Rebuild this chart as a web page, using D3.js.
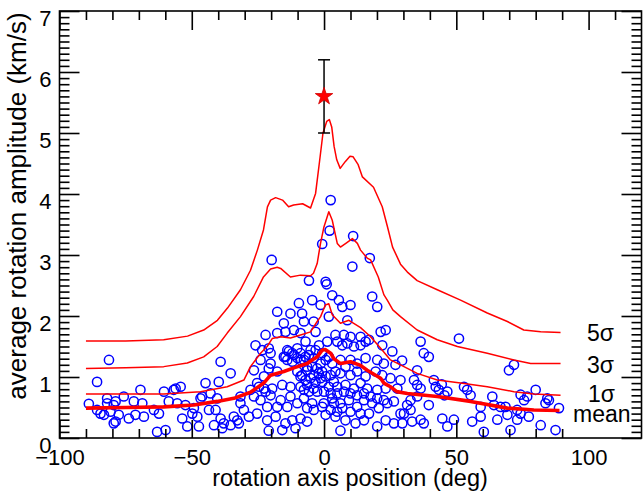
<!DOCTYPE html>
<html><head><meta charset="utf-8">
<script src="https://cdn.jsdelivr.net/npm/d3@7"></script>
<style>
body{margin:0;background:#fff;}
svg{display:block;}
text{font-family:"Liberation Sans",Arial,Helvetica,sans-serif;fill:#000;}
</style>
</head><body>
<svg id="c" width="644" height="499"></svg>
<script>
// ---------------- data ----------------
const xLabels = [-100, -50, 0, 50, 100];
const yLabels = [0, 1, 2, 3, 4, 5, 6, 7];
const sigmaLabels = ["5σ", "3σ", "1σ", "mean"];

const points = [
[-88.9,0.56],[-85.8,0.92],[-81.3,1.28],[-84.5,0.40],[-83.2,0.38],[-85.8,0.46],[-82.0,0.57],[-82.0,0.65],
[-79.5,0.54],[-78.8,0.60],[-80.7,0.43],[-79.5,0.24],[-78.8,0.27],[-77.6,0.38],[-75.7,0.68],[-73.8,0.32],
[-71.9,0.60],[-71.3,0.38],[-69.4,0.79],[-68.7,0.57],[-68.1,0.35],[-64.3,0.46],[-63.1,0.10],[-62.4,0.40],
[-60.5,0.76],[-59.9,0.13],[-58.7,0.60],[-56.8,0.79],[-56.1,0.81],[-55.5,0.57],[-54.2,0.84],[-53.6,0.32],
[-52.4,0.54],[-51.7,0.19],[-49.8,0.40],[-49.2,0.49],[-47.9,0.35],[-47.3,0.19],[-46.7,0.65],[-46.1,0.68],
[-44.8,0.90],[-43.5,0.46],[-42.9,0.73],[-41.6,0.21],[-41.0,0.46],[-40.4,0.65],[-39.8,0.92],[-39.1,1.25],
[-38.5,0.16],[-39.1,0.32],[-37.9,0.24],[-35.3,1.06],[-35.3,0.21],[-34.1,0.35],[-32.8,0.29],[-32.2,0.24],
[-31.6,0.57],[-31.6,0.68],[-30.3,0.46],[-28.4,0.35],[-27.8,0.79],
[-5.7,2.58],[0.6,2.56],[1.0,2.52],[3.1,2.34],[18.2,2.32],[-4.5,2.26],[-9.5,2.21],[5.6,2.26],[6.9,2.15],
[10.0,2.18],[20.1,2.15],[-17.7,2.07],[-12.7,2.04],[-8.3,2.04],[-7.6,1.91],[-3.9,1.91],[1.8,1.99],[-1.3,2.18],
[8.8,1.93],[-15.2,1.88],[-11.4,1.77],[21.4,1.74],[23.3,1.77],[-22.1,1.69],[-17.7,1.72],[-14.6,1.74],
[-8.9,1.72],[-3.2,1.74],[4.3,1.69],[7.5,1.69],[10.0,1.66],[13.8,1.66],[17.0,1.61],[-25.9,1.52],[-23.4,1.44],
[-20.9,1.47],[-20.2,1.39],[-13.9,1.44],[-12.0,1.39],[-10.1,1.47],[-7.0,1.58],[-5.1,1.44],[-1.9,1.52],
[1.2,1.58],[5.0,1.58],[6.9,1.52],[8.8,1.55],[11.3,1.50],[13.8,1.52],[15.7,1.58],[22.0,1.52],[25.8,1.42],
[27.0,1.20],[-24.0,1.28],[-20.2,1.22],[-15.2,1.33],[-13.9,1.28],[-12.0,1.25],[-8.9,1.28],[-7.0,1.33],
[-3.9,1.31],[-1.3,1.22],[1.8,1.33],[3.1,1.22],[6.2,1.28],[8.1,1.17],[10.0,1.28],[12.5,1.22],[15.7,1.31],
[20.1,1.28],[22.6,1.22],[-26.5,1.11],[-20.9,1.14],[-17.7,1.09],[-10.1,1.09],[-8.3,1.03],[-6.4,1.11],
[-3.9,1.03],[-2.0,1.06],[4.3,1.09],[6.2,1.06],[10.0,1.03],[12.5,1.09],[15.7,1.01],[19.5,1.09],[22.0,1.03],
[25.1,0.98],[-25.3,0.90],[-22.7,0.81],[-19.6,0.81],[-15.8,0.87],[-12.7,0.84],[-8.9,0.84],[-6.4,0.87],
[-3.9,0.81],[-0.7,0.92],[1.8,0.84],[5.0,0.84],[8.1,0.87],[11.3,0.81],[13.8,0.90],[16.3,0.81],[20.1,0.79],
[23.3,0.81],[27.7,0.81],[-26.5,0.68],[-24.0,0.62],[-20.2,0.70],[-16.4,0.62],[-12.7,0.68],[-10.1,0.57],
[-7.6,0.65],[-4.5,0.57],[-0.1,0.57],[3.1,0.65],[6.2,0.57],[9.4,0.62],[12.5,0.51],[15.1,0.62],[18.2,0.57],
[20.7,0.49],[23.9,0.57],[26.4,0.60],[-25.3,0.40],[-21.5,0.29],[-18.3,0.35],[-14.6,0.24],[-12.0,0.29],
[-8.9,0.32],[-6.4,0.27],[0.6,0.38],[4.3,0.35],[8.1,0.29],[11.9,0.24],[15.1,0.29],[20.1,0.19],[23.3,0.29],
[26.4,0.24],[-20.9,0.12],[-15.8,0.13],[-10.8,0.16],[6.2,0.12],
[-14.6,1.33],[-13.3,1.42],[-11.4,1.36],[-10.1,1.31],[-8.9,1.39],[-7.6,1.28],[-5.7,1.36],[-3.2,1.44],
[-0.7,1.39],[0.6,1.28],[-6.4,1.17],[-4.5,1.17],[-2.6,1.14],[-0.7,1.09],[-8.9,1.01],[-7.0,0.95],[-5.1,0.98],
[-3.2,0.92],[-1.3,0.98],[0.6,1.01],[2.5,1.03],[3.7,0.92],[-7.6,0.79],[-5.7,0.76],[-2.6,0.76],[0.0,0.76],
[2.5,0.73],[5.0,0.73],[7.5,0.76],[10.0,0.73],[12.5,0.70],[15.1,0.73],[17.6,0.68],[20.1,0.65],[22.6,0.62],
[3.7,0.57],[6.9,0.49],[10.0,0.43],[13.8,0.40],[17.0,0.40],[-0.7,0.51],[2.5,0.46],[5.0,0.43],[-3.9,0.46],
[-6.4,0.49],[-13.9,0.51],[-17.7,0.51],[-21.5,0.51],[-22.7,1.01],[-24.6,0.84],[-22.1,0.76],
[2.5,3.90],[2.1,3.40],[-0.7,3.18],[11.0,3.31],[17.3,2.95],[10.7,2.81],[-19.8,2.92],
[28.9,0.95],[29.5,1.27],[28.9,0.40],[29.6,0.24],[30.2,0.40],[31.4,0.54],[32.7,0.46],[32.7,0.62],[33.3,0.27],
[35.2,0.68],[34.0,0.95],[35.2,0.87],[36.5,0.81],[35.2,1.11],[36.5,1.58],[37.7,1.39],[39.6,1.33],[36.5,0.30],
[37.7,0.24],[39.6,0.54],[41.5,0.95],[42.2,0.84],[43.4,0.79],[44.5,0.88],[45.5,0.70],[46.6,0.76],[44.7,0.32],
[46.6,0.19],[49.1,0.30],[51.0,1.63],[52.9,0.84],[54.1,0.79],[55.4,0.70],[56.0,0.27],[59.2,0.51],[60.4,0.10],
[59.2,0.35],[63.6,0.68],[64.2,0.54],[65.5,0.30],[66.7,0.51],[68.6,0.51],[69.9,1.11],[71.8,1.20],[70.5,0.13],
[73.0,0.30],[74.3,0.71],[75.6,0.62],[76.8,0.68],[77.4,0.35],[80.0,0.79],[81.9,0.21],[83.7,0.57],[84.4,0.65],
[85.0,0.62],[88.8,0.49],[87.5,0.13],[69.3,0.38],[73.0,0.46],[74.3,0.40]
];

const curve5 = [
[-90,1.59],[-75,1.59],[-60.6,1.61],[-51.6,1.67],[-45.5,1.77],[-40.3,1.93],[-36.5,2.13],[-31.6,2.43],
[-27.8,2.75],[-25.2,3.08],[-22.9,3.41],[-21.4,3.79],[-20.2,3.90],[-18.3,3.94],[-15.7,3.90],[-13.4,3.79],
[-11.5,3.82],[-8.1,3.84],[-5.1,3.77],[-3.2,4.01],[-1.8,4.50],[-0.4,5.00],[1.0,5.19],[2.0,5.22],[2.9,5.10],
[3.8,4.78],[4.8,4.56],[6.1,4.42],[8.0,4.53],[9.8,4.62],[11.0,4.61],[12.9,4.48],[14.5,4.28],[18.7,4.11],
[22.0,3.79],[24.0,3.46],[25.9,3.13],[28.9,2.85],[31.5,2.72],[35.2,2.58],[42.8,2.43],[51.6,2.26],
[61.7,2.05],[69.3,1.91],[75.5,1.77],[81.9,1.74],[89.4,1.73]
];
const curve3 = [
[-90,1.14],[-75,1.15],[-60.6,1.17],[-51.7,1.23],[-45.5,1.33],[-40.4,1.50],[-36.6,1.72],[-31.6,1.99],
[-26.6,2.32],[-22.9,2.64],[-20.2,2.77],[-17.7,2.80],[-16.4,2.78],[-12.7,2.64],[-8.9,2.67],[-5.1,2.66],
[-4.0,2.70],[-2.6,2.86],[-1.3,3.20],[-0.1,3.45],[1.8,3.71],[3.1,3.57],[5.0,3.19],[6.2,3.13],[8.5,3.20],
[10.7,3.27],[12.6,3.19],[13.8,3.08],[16.3,2.95],[17.6,2.92],[20.5,2.64],[22.6,2.35],[23.9,2.26],[26.0,2.10],
[28.9,1.99],[35.2,1.77],[42.8,1.61],[50.4,1.50],[61.7,1.39],[71.8,1.28],[78.1,1.22],[89.4,1.22]
];
const curve1 = [
[-90,0.72],[-75,0.72],[-60.6,0.72],[-46.7,0.76],[-36.6,0.84],[-30.3,0.95],[-27.8,1.17],[-24.0,1.39],
[-21.5,1.50],[-19.6,1.63],[-16.4,1.66],[-12.7,1.64],[-8.9,1.69],[-5.1,1.74],[-2.6,1.91],[-1.3,1.99],
[0.5,2.18],[1.8,2.20],[3.1,2.02],[6.2,1.88],[9.4,1.93],[13.8,1.81],[17.6,1.66],[21.4,1.47],[25.1,1.28],
[28.9,1.20],[35.2,1.06],[42.8,0.95],[51.6,0.90],[61.7,0.84],[71.8,0.76],[79.3,0.72],[89.4,0.70]
];
const curveMean = [
[-90,0.49],[-75,0.50],[-60.6,0.51],[-49.2,0.54],[-40.4,0.60],[-34.1,0.65],[-27.8,0.75],[-22.8,0.90],
[-20.2,1.03],[-15.2,1.09],[-11.4,1.15],[-6.4,1.22],[-4.5,1.28],[-2.6,1.33],[-0.7,1.44],[0.4,1.45],
[2.5,1.39],[3.7,1.30],[5.0,1.26],[6.2,1.22],[10.0,1.25],[13.8,1.19],[16.3,1.11],[21.4,0.98],[22.6,0.90],
[25.1,0.84],[27.5,0.76],[31.5,0.73],[42.8,0.68],[55.4,0.60],[69.3,0.49],[79.3,0.46],[89.0,0.45]
];

const starX = 0, starY = 5.6, errLo = 5.0, errHi = 6.2;

// ---------------- drawing ----------------
const svg = d3.select("#c");
const L = 59.5, R = 641.5, T = 11, B = 438;
const x = d3.scaleLinear().domain([-100, 120]).range([L, R]);
const y = d3.scaleLinear().domain([0, 7]).range([B, T]);

// scatter
svg.append("g").selectAll("circle").data(points).join("circle")
  .attr("cx", d => x(d[0])).attr("cy", d => y(d[1])).attr("r", 4.6)
  .attr("fill", "none").attr("stroke", "#0000ff").attr("stroke-width", 1.5);

// curves
const line = d3.line().x(d => x(d[0])).y(d => y(d[1]));
[[curve5,1.5],[curve3,1.5],[curve1,1.5],[curveMean,3.6]].forEach(([c,w]) => {
  svg.append("path").datum(c).attr("d", line).attr("fill","none")
    .attr("stroke","#ff0000").attr("stroke-width", w).attr("stroke-linejoin","round");
});

// error bar + star
const eb = svg.append("g").attr("stroke","#000").attr("stroke-width",1.5);
eb.append("line").attr("x1",x(starX)).attr("x2",x(starX)).attr("y1",y(errLo)).attr("y2",y(errHi));
[errLo, errHi].forEach(v => eb.append("line").attr("x1",x(starX)-6).attr("x2",x(starX)+6).attr("y1",y(v)).attr("y2",y(v)));
svg.append("path").attr("d", d3.symbol(d3.symbolStar, 95)())
  .attr("transform", `translate(${x(starX)},${y(starY)})`)
  .attr("fill","#ff0000").attr("stroke","#d00000").attr("stroke-width",0.8);

// axes
function styleAxis(g){ g.select(".domain").remove(); g.selectAll("line").attr("stroke","#000").attr("stroke-width",1.6); }
const xMajBottom = [-100,-50,0,50];
const xMajTop = [-100,-50,0,50,100];
const xMinBottom = d3.range(-90, 91, 10).filter(v => v % 50 !== 0);
const xMinTop = d3.range(-90, 111, 10).filter(v => v % 50 !== 0);
const yMinor = d3.range(1, 70).filter(v => v % 10 !== 0).map(v => v/10);

svg.append("g").attr("transform",`translate(0,${B})`).call(d3.axisBottom(x).tickValues(xMajBottom).tickSize(-18).tickFormat("")).call(styleAxis);
svg.append("g").attr("transform",`translate(0,${B})`).call(d3.axisBottom(x).tickValues(xMinBottom).tickSize(-9).tickFormat("")).call(styleAxis);
svg.append("g").attr("transform",`translate(0,${T})`).call(d3.axisTop(x).tickValues(xMajTop).tickSize(-19).tickFormat("")).call(styleAxis);
svg.append("g").attr("transform",`translate(0,${T})`).call(d3.axisTop(x).tickValues(xMinTop).tickSize(-9).tickFormat("")).call(styleAxis);
svg.append("g").attr("transform",`translate(${L},0)`).call(d3.axisLeft(y).tickValues(yLabels).tickSize(-20).tickFormat("")).call(styleAxis);
svg.append("g").attr("transform",`translate(${L},0)`).call(d3.axisLeft(y).tickValues(yMinor).tickSize(-10).tickFormat("")).call(styleAxis);
svg.append("g").attr("transform",`translate(${R},0)`).call(d3.axisRight(y).tickValues(yLabels).tickSize(-20).tickFormat("")).call(styleAxis);
svg.append("g").attr("transform",`translate(${R},0)`).call(d3.axisRight(y).tickValues(yMinor).tickSize(-10).tickFormat("")).call(styleAxis);

// frame
svg.append("rect").attr("x",L).attr("y",T).attr("width",R-L).attr("height",B-T)
  .attr("fill","none").attr("stroke","#000").attr("stroke-width",1.6);

// tick labels
const gx = svg.append("g").attr("transform",`translate(0,${B})`)
  .call(d3.axisBottom(x).tickValues(xLabels).tickSize(0).tickFormat(d3.format("d")));
gx.select(".domain").remove();
gx.selectAll("text").attr("y",27).attr("dy",null).style("font-size","22px").style("font-family","Liberation Sans, Arial, sans-serif").attr("fill","#000");

const gy = svg.append("g").attr("transform",`translate(${L},0)`)
  .call(d3.axisLeft(y).tickValues(yLabels).tickSize(0).tickFormat(d3.format("d")));
gy.select(".domain").remove();
gy.selectAll("text").attr("x",-8).attr("dy",null).attr("y",14).style("font-size","22px").style("font-family","Liberation Sans, Arial, sans-serif").attr("fill","#000");

// axis titles
svg.append("text").attr("x",350).attr("y",486).attr("text-anchor","middle")
  .style("font-size","23.5px").text("rotation axis position (deg)");
svg.append("text").attr("transform","translate(26,206) rotate(-90)").attr("text-anchor","middle")
  .style("font-size","26px").text("average rotation amplitude (km/s)");

// curve labels
const labPos = [[587,341],[587,373],[588,401.5],[573,421.5]];
sigmaLabels.forEach((t,i) => {
  svg.append("text").attr("x",labPos[i][0]).attr("y",labPos[i][1]).style("font-size","23px").text(t);
});
</script>
</body></html>
